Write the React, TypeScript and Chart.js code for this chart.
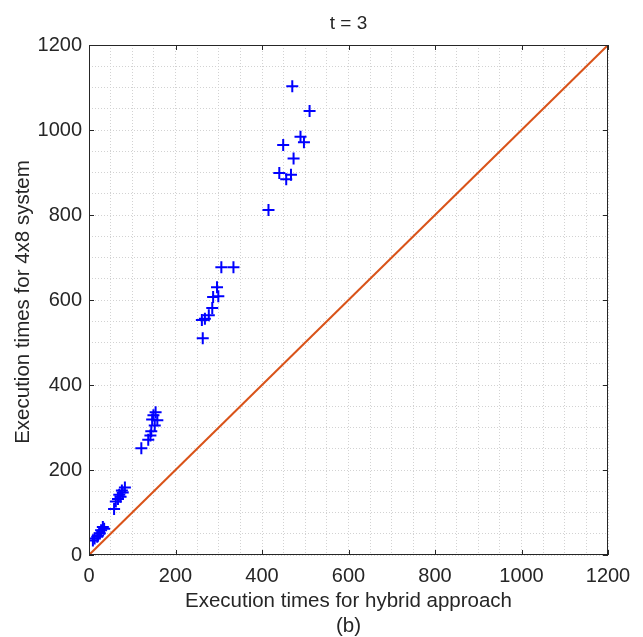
import React, { useEffect, useRef } from "react";
import { Chart, registerables } from "chart.js";

Chart.register(...registerables);

// Hybrid approach execution time (x) vs 4x8 system execution time (y)
const hybridTimes: number[] = [
  9, 13, 19, 21, 25, 28, 32, 35,
  58, 62, 67, 70, 73, 76, 78, 83,
  121, 137, 142, 144, 149, 152, 154, 146, 158,
  263, 261, 268, 277, 285, 287, 299, 296, 306, 334,
  415, 456, 467, 440, 473, 449, 497, 489, 510, 470,
];
const systemTimes: number[] = [
  34, 39, 43, 46, 51, 58, 66, 62,
  108, 126, 132, 142, 137, 152, 147, 159,
  251, 271, 281, 291, 329, 305, 336, 319, 317,
  510, 553, 556, 564, 581, 607, 609, 630, 677, 677,
  812, 884, 895, 899, 933, 965, 971, 984, 1045, 1103,
];
const referenceLine: number[] = [0, 1200];
const majorTicks: number[] = [0, 200, 400, 600, 800, 1000, 1200];

const TEXT = "#262626";
const FONT = "'Liberation Sans', Arial, sans-serif";

const framePlugin = {
  id: "frame",
  afterDatasetsDraw(chart: any) {
    const { ctx, chartArea: a, scales } = chart;
    const xs = scales.x;
    const ys = scales.y;
    ctx.save();
    ctx.strokeStyle = TEXT;
    ctx.lineWidth = 1;
    ctx.setLineDash([]);
    ctx.strokeRect(a.left + 0.5, a.top + 0.5, a.right - a.left - 1, a.bottom - a.top - 1);
    const len = 5;
    ctx.beginPath();
    for (const v of majorTicks) {
      const px = Math.round(xs.getPixelForValue(v)) + 0.5;
      ctx.moveTo(px, a.bottom);
      ctx.lineTo(px, a.bottom - len);
      ctx.moveTo(px, a.top);
      ctx.lineTo(px, a.top + len);
      const py = Math.round(ys.getPixelForValue(v)) + 0.5;
      ctx.moveTo(a.left, py);
      ctx.lineTo(a.left + len, py);
      ctx.moveTo(a.right, py);
      ctx.lineTo(a.right - len, py);
    }
    ctx.stroke();

    ctx.fillStyle = TEXT;
    ctx.textAlign = "center";
    ctx.textBaseline = "middle";
    const cx = (a.left + a.right) / 2;
    ctx.font = `19px ${FONT}`;
    ctx.fillText("t = 3", cx, 24);
    ctx.font = `20.5px ${FONT}`;
    ctx.fillText("Execution times for hybrid approach", cx, 601);
    ctx.fillText("(b)", cx, 626);
    ctx.translate(23, (a.top + a.bottom) / 2 + 2);
    ctx.rotate(-Math.PI / 2);
    ctx.fillText("Execution times for 4x8 system", 0, 0);
    ctx.restore();
  },
};

function axis(isX: boolean) {
  return {
    type: "linear" as const,
    min: 0,
    max: 1200,
    afterFit(scale: any) {
      if (isX) scale.height = 82;
      else scale.width = 89;
    },
    ticks: {
      stepSize: 50,
      autoSkip: false,
      maxRotation: 0,
      padding: isX ? 9 : 7,
      color: TEXT,
      font: { family: FONT, size: 20 },
      callback: (v: any) => (Number(v) % 200 === 0 ? String(v) : ""),
    },
    grid: {
      drawTicks: false,
      color: "#d2d2d2",
      lineWidth: 1,
    },
    border: { display: false, dash: [1, 2] },
  };
}

export default function App() {
  const ref = useRef<HTMLCanvasElement | null>(null);

  useEffect(() => {
    if (!ref.current) return;
    const chart = new Chart(ref.current, {
      type: "scatter",
      data: {
        datasets: [
          {
            type: "line",
            data: referenceLine.map((v) => ({ x: v, y: v })),
            borderColor: "#D95319",
            borderWidth: 2,
            pointRadius: 0,
            fill: false,
          },
          {
            type: "scatter",
            data: hybridTimes.map((x, i) => ({ x, y: systemTimes[i] })),
            pointStyle: "cross",
            pointRadius: 6,
            borderColor: "#0000FF",
            backgroundColor: "#0000FF",
            borderWidth: 2,
          },
        ],
      } as any,
      options: {
        responsive: false,
        animation: false,
        layout: { padding: { top: 45, right: 35, left: 0, bottom: 0 } },
        plugins: {
          legend: { display: false },
          tooltip: { enabled: false },
          title: { display: false },
        },
        scales: { x: axis(true), y: axis(false) } as any,
      },
      plugins: [framePlugin],
    });
    return () => chart.destroy();
  }, []);

  return (
    <div style={{ position: "absolute", left: 0, top: 0, width: 643, height: 637, background: "#fff" }}>
      <canvas ref={ref} width={643} height={637} style={{ display: "block" }} />
    </div>
  );
}
